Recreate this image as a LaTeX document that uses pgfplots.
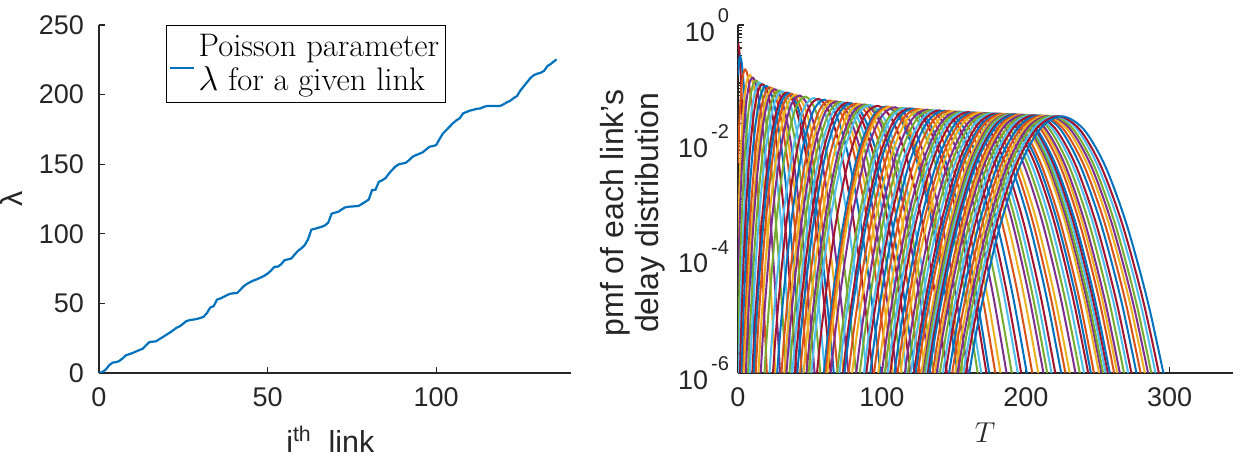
\documentclass[border=0pt]{standalone}
\usepackage{fontspec}
\setsansfont{Liberation Sans}
\usepackage{pgfplots}
\pgfplotsset{compat=1.18}

\definecolor{mb}{rgb}{0,0.447,0.741}
\definecolor{mo}{rgb}{0.850,0.325,0.098}
\definecolor{my}{rgb}{0.929,0.694,0.125}
\definecolor{mp}{rgb}{0.494,0.184,0.556}
\definecolor{mg}{rgb}{0.466,0.674,0.188}
\definecolor{mc}{rgb}{0.301,0.745,0.933}
\definecolor{mr}{rgb}{0.635,0.078,0.184}
\definecolor{axc}{gray}{0.15}

\newcommand{\tkf}{\sffamily\fontsize{13.5}{16}\selectfont}
\newcommand{\lbf}{\sffamily\fontsize{15.2}{17.5}\selectfont}
\newcommand{\sups}[1]{\raisebox{0.68em}{\fontsize{10}{10}\selectfont\hspace{1.5pt}#1}}

\pgfplotsset{
  matlab/.style={
    scale only axis, anchor=south west,
    axis lines*=left, tick align=inside,
    major tick length=3pt, minor tick length=2pt,
    axis line style={draw=axc, line width=0.6pt},
    every tick/.style={draw=axc, line width=0.6pt},
    tick label style={font=\tkf, text=axc},
    label style={text=axc},
    /pgf/number format/assume math mode=true,
    xticklabel style={yshift=-4pt},
  }
}

\begin{document}
\begin{tikzpicture}
\useasboundingbox (0pt,0pt) rectangle (624pt,230pt);

% ---- left: lambda per link ----
\begin{axis}[matlab,
  at={(49.5pt,43.5pt)}, width=236pt, height=174pt,
  xmin=0, xmax=140, ymin=0, ymax=250,
  xtick={0,50,100}, ytick={0,50,100,150,200,250},
  yticklabel style={xshift=-4pt},
  xlabel={i\textsuperscript{th}\ \ link},
  ylabel={λ},
  xlabel style={font=\lbf, at={(axis description cs:0.49,-0.19)}, anchor=center},
  ylabel style={font=\lbf, at={(axis description cs:-0.186,0.5)}, anchor=center},
  legend style={at={(0.142,1)}, anchor=north west, draw=black, line width=0.5pt,
    font=\rmfamily\fontsize{16.3}{17}\selectfont, inner xsep=1pt, inner ysep=2.5pt,
    cells={align=left}},
  legend cell align=left,
  legend image code/.code={\draw[#1, line width=1.1pt] (0pt,-2pt) -- (12pt,-2pt);},
]
\addplot[mb, line width=1.1pt] coordinates {
(0,0) (1,0.7) (2,2.5) (3,5.5) (4,7.4) (5,7.8) (6,8.6) (7,10.5) (8,12.7) (9,13.5)
(10,14.4) (11,15.5) (12,16.5) (13,17.5) (14,20) (15,22.3) (16,22.5) (17,22.8) (18,24.5) (19,25.9)
(20,27.5) (21,29) (22,30.7) (23,32.5) (24,33.6) (25,35.5) (26,37.4) (27,38) (28,38.4) (29,38.8)
(30,39.5) (31,40.3) (32,43) (33,47) (34,48) (35,52.7) (36,53.5) (37,54.7) (38,56) (39,57)
(40,57.3) (41,57.5) (42,60) (43,62.5) (44,64.2) (45,65.5) (46,66.6) (47,67.5) (48,68.6) (49,69.8)
(50,71.4) (51,73.5) (52,76.2) (53,76.4) (54,78) (55,81) (56,81.6) (57,82.2) (58,85) (59,87.7)
(60,89.5) (61,91.8) (62,96) (63,103) (64,103.6) (65,104.3) (66,105) (67,106) (68,108) (69,114.5)
(70,115.2) (71,115.8) (72,117.5) (73,119) (74,119.4) (75,119.6) (76,119.8) (77,120) (78,121.5) (79,123)
(80,124.6) (81,131.4) (82,131.6) (83,137.3) (84,138.5) (85,140) (86,143.3) (87,146) (88,148.5) (89,150)
(90,150.5) (91,151) (92,153) (93,155.3) (94,156.5) (95,157.5) (96,158.5) (97,160.5) (98,162.5) (99,163)
(100,163.7) (101,168) (102,172) (103,174.5) (104,177) (105,179.5) (106,181.5) (107,183) (108,186.5) (109,187.5)
(110,188.5) (111,189) (112,189.8) (113,190) (114,191) (115,191.8) (116,191.8) (117,191.8) (118,191.8) (119,191.9)
(120,193) (121,194.5) (122,195.6) (123,197.5) (124,199) (125,203) (126,206) (127,209) (128,212) (129,214)
(130,215) (131,215.7) (132,217) (133,220.5) (134,222) (135,224) (135.7,225.3)
};
\addlegendentry{Poisson parameter\\$\lambda$ for a given link}
\end{axis}

% ---- right: pmf of each link (log10 values) ----
\begin{axis}[matlab,
  at={(369pt,43.5pt)}, width=247.5pt, height=174pt,
  xmin=0, xmax=344, ymin=-6, ymax=0,
  xtick={0,100,200,300},
  ytick={-6,-4,-2,0},
  yticklabels={{10\sups{-6}},{10\sups{-4}},{10\sups{-2}},{10\sups{0}}},
  minor ytick={-5,-3,-1,
    -5.699,-5.523,-5.398,-5.301,-5.222,-5.155,-5.097,-5.046,
    -4.699,-4.523,-4.398,-4.301,-4.222,-4.155,-4.097,-4.046,
    -3.699,-3.523,-3.398,-3.301,-3.222,-3.155,-3.097,-3.046,
    -2.699,-2.523,-2.398,-2.301,-2.222,-2.155,-2.097,-2.046,
    -1.699,-1.523,-1.398,-1.301,-1.222,-1.155,-1.097,-1.046,
    -0.699,-0.523,-0.398,-0.301,-0.222,-0.155,-0.097,-0.046},
  yticklabel style={xshift=-1pt},
  xlabel={$T$},
  ylabel={pmf of each link's\\delay distribution},
  xlabel style={font=\rmfamily\fontsize{15}{17}\selectfont, at={(axis description cs:0.499,-0.172)}, anchor=center},
  ylabel style={font=\sffamily\fontsize{16}{17.5}\selectfont, align=center, at={(axis description cs:-0.213,0.46)}, anchor=center},
  cycle list={{mr},{mb},{mo},{my},{mp},{mg},{mc}},
  every axis plot/.append style={line width=1.0pt, smooth, no marks},
]
% lambda = 0.7
\addplot+ coordinates {(0,-0.304) (1,-0.459) (2,-0.915) (3,-1.547) (4,-2.304) (5,-3.158) (6,-4.09) (7,-5.09) (8,-6.15)};
% lambda = 2
\addplot+ coordinates {(0,-0.869) (1,-0.568) (2,-0.568) (3,-0.744) (4,-1.045) (5,-1.442) (6,-1.919) (7,-2.463) (8,-3.066) (9,-3.719) (10,-4.418) (11,-5.158) (12,-5.936) (13,-6.749)};
% lambda = 5.5
\addplot+ coordinates {(0,-2.389) (1,-1.648) (2,-1.209) (3,-0.946) (4,-0.807) (5,-0.766) (6,-0.804) (7,-0.908) (8,-1.072) (9,-1.285) (10,-1.545) (12,-2.184) (14,-2.963) (16,-3.864) (18,-4.868) (20,-5.967) (22,-7.151)};
% lambda = 8.6
\addplot+ coordinates {(0,-3.735) (1,-2.80) (2,-2.167) (4,-1.377) (6,-0.985) (8,-0.865) (9,-0.884) (10,-0.950) (12,-1.201) (14,-1.592) (16,-2.104) (18,-2.720) (20,-3.431) (22,-4.227) (24,-5.099) (26,-6.044) (28,-7.053)};
% lambda = 10.5
\addplot+ coordinates {(0,-4.560) (1,-3.539) (2,-2.819) (4,-1.855) (6,-1.290) (8,-0.996) (10,-0.908) (11,-0.928) (12,-0.986) (14,-1.203) (16,-1.542) (18,-1.984) (20,-2.522) (22,-3.145) (24,-3.843) (26,-4.615) (28,-5.450) (30,-6.347)};
% lambda = 13
\addplot+ coordinates {(0,-5.646) (1,-4.532) (2,-3.719) (4,-2.570) (6,-1.820) (8,-1.341) (10,-1.067) (12,-0.959) (14,-0.991) (16,-1.145) (18,-1.402) (20,-1.754) (22,-2.191) (24,-2.704) (26,-3.291) (28,-3.941) (30,-4.652) (32,-5.421) (34,-6.243)};
% lambda = 15.5
\addplot+ coordinates {(0,-6.732) (1,-5.542) (2,-4.652) (4,-3.351) (6,-2.447) (8,-1.816) (10,-1.389) (12,-1.128) (14,-1.008) (16,-1.008) (18,-1.113) (20,-1.312) (22,-1.596) (24,-1.957) (26,-2.390) (28,-2.888) (30,-3.446) (32,-4.062) (34,-4.732) (36,-5.453) (38,-6.222)};
% lambda = 17.5
\addplot+ coordinates {(0,-7.6) (1,-6.357) (2,-5.415) (4,-4.008) (6,-2.999) (8,-2.262) (10,-1.730) (12,-1.364) (14,-1.138) (16,-1.033) (18,-1.032) (20,-1.126) (22,-1.305) (24,-1.560) (26,-1.888) (28,-2.280) (30,-2.733) (32,-3.244) (34,-3.808) (36,-4.424) (38,-5.087) (40,-5.792) (42,-6.542)};
% lambda = 20
\addplot+ coordinates {(1,-7.385) (2,-6.385) (4,-4.862) (6,-3.737) (8,-2.884) (10,-2.236) (12,-1.754) (14,-1.412) (16,-1.191) (18,-1.074) (20,-1.052) (22,-1.115) (24,-1.254) (26,-1.466) (28,-1.742) (30,-2.079) (33,-2.691) (36,-3.422) (39,-4.259) (42,-5.192) (45,-6.218)};
% lambda = 22.5
\addplot+ coordinates {(2,-7.369) (4,-5.743) (6,-4.516) (8,-3.560) (10,-2.810) (12,-2.226) (14,-1.781) (16,-1.458) (18,-1.238) (20,-1.114) (22,-1.075) (24,-1.111) (26,-1.221) (28,-1.394) (30,-1.629) (32,-1.922) (35,-2.459) (38,-3.109) (41,-3.857) (44,-4.699) (47,-5.631) (50,-6.645)};
% lambda = 24.5
\addplot+ coordinates {(3,-7.25) (4.7,-5.69) (9.65,-3.46) (14.6,-2.00) (19.55,-1.28) (24.5,-1.094) (29.45,-1.34) (34.4,-1.94) (39.35,-2.84) (44.3,-4.01) (49.25,-5.42) (54.2,-7.03)};
% lambda = 26
\addplot+ coordinates {(4,-7.012) (6,-5.659) (8,-4.578) (10,-3.702) (13,-2.691) (16,-1.973) (19,-1.492) (22,-1.213) (25,-1.107) (28,-1.156) (31,-1.341) (34,-1.652) (37,-2.077) (40,-2.604) (44,-3.456) (48,-4.465) (52,-5.619) (56,-6.903)};
% lambda = 28.8
\addplot+ coordinates {(1.95,-9.89) (7.32,-5.8) (12.69,-3.42) (18.06,-2.03) (23.43,-1.32) (28.8,-1.129) (34.17,-1.37) (39.54,-1.98) (44.91,-2.89) (50.28,-4.09) (55.65,-5.54) (61.02,-7.21)};
% lambda = 31
\addplot+ coordinates {(6,-7.372) (8,-6.138) (10,-5.109) (13,-3.869) (16,-2.922) (19,-2.211) (22,-1.703) (25,-1.368) (28,-1.188) (31,-1.144) (34,-1.225) (37,-1.421) (40,-1.719) (44,-2.265) (48,-2.969) (52,-3.817) (56,-4.796) (60,-5.898) (64,-7.115)};
% lambda = 34
\addplot+ coordinates {(4.85,-9.14) (10.68,-5.63) (16.51,-3.41) (22.34,-2.06) (28.17,-1.36) (34,-1.165) (39.83,-1.41) (45.66,-2.01) (51.49,-2.95) (57.32,-4.17) (63.15,-5.65) (68.98,-7.36)};
% lambda = 35.5
\addplot+ coordinates {(5.7,-9.14) (11.66,-5.63) (17.62,-3.42) (23.58,-2.07) (29.54,-1.37) (35.5,-1.174) (41.46,-1.41) (47.42,-2.02) (53.38,-2.95) (59.34,-4.17) (65.3,-5.65) (71.26,-7.36)};
% lambda = 37.5
\addplot+ coordinates {(6.9,-9.16) (13.02,-5.65) (19.14,-3.44) (25.26,-2.08) (31.38,-1.38) (37.5,-1.186) (43.62,-1.43) (49.74,-2.04) (55.86,-2.97) (61.98,-4.19) (68.1,-5.67) (74.22,-7.38)};
% lambda = 40.3
\addplot+ coordinates {(8.55,-9.17) (14.9,-5.66) (21.25,-3.45) (27.6,-2.10) (33.95,-1.39) (40.3,-1.202) (46.65,-1.44) (53.0,-2.05) (59.35,-2.98) (65.7,-4.20) (72.05,-5.68) (78.4,-7.39)};
% lambda = 43
\addplot+ coordinates {(10.2,-8.92) (16.76,-5.58) (23.32,-3.44) (29.88,-2.11) (36.44,-1.41) (43,-1.216) (49.56,-1.45) (56.12,-2.07) (62.68,-3.01) (69.24,-4.25) (75.8,-5.75) (82.36,-7.50)};
% lambda = 47
\addplot+ coordinates {(12.7,-8.70) (19.56,-5.53) (26.42,-3.44) (33.28,-2.13) (40.14,-1.43) (47,-1.235) (53.86,-1.47) (60.72,-2.09) (67.58,-3.04) (74.44,-4.29) (81.3,-5.81) (88.16,-7.59)};
% lambda = 52.7
\addplot+ coordinates {(16.4,-8.20) (23.66,-5.37) (30.92,-3.42) (38.18,-2.15) (45.44,-1.46) (52.7,-1.26) (59.96,-1.49) (67.22,-2.11) (74.48,-3.08) (81.74,-4.35) (89.0,-5.92) (96.26,-7.76)};
% lambda = 56
\addplot+ coordinates {(18.6,-8.21) (26.08,-5.38) (33.56,-3.43) (41.04,-2.16) (48.52,-1.47) (56,-1.273) (63.48,-1.51) (70.96,-2.12) (78.44,-3.09) (85.92,-4.36) (93.4,-5.93) (100.88,-7.77)};
% lambda = 60
\addplot+ coordinates {(21.25,-8.23) (29,-5.40) (36.75,-3.45) (44.5,-2.18) (52.25,-1.49) (60,-1.288) (67.75,-1.52) (75.5,-2.14) (83.25,-3.11) (91,-4.38) (98.75,-5.95) (106.5,-7.79)};
% lambda = 64
\addplot+ coordinates {(24,-8.24) (32,-5.41) (40,-3.46) (48,-2.19) (56,-1.50) (64,-1.302) (72,-1.54) (80,-2.15) (88,-3.12) (96,-4.39) (104,-5.96) (112,-7.80)};
% lambda = 66.6
\addplot+ coordinates {(25.8,-8.25) (33.96,-5.42) (42.12,-3.47) (50.28,-2.20) (58.44,-1.51) (66.6,-1.311) (74.76,-1.55) (82.92,-2.16) (91.08,-3.13) (99.24,-4.40) (107.4,-5.97) (115.56,-7.81)};
% lambda = 68.6
\addplot+ coordinates {(27.2,-8.26) (35.48,-5.43) (43.76,-3.48) (52.04,-2.21) (60.32,-1.52) (68.6,-1.317) (76.88,-1.55) (85.16,-2.17) (93.44,-3.14) (101.72,-4.41) (110.0,-5.98) (118.28,-7.82)};
% lambda = 71.4
\addplot+ coordinates {(29.15,-8.27) (37.6,-5.44) (46.05,-3.49) (54.5,-2.22) (62.95,-1.53) (71.4,-1.326) (79.85,-1.56) (88.3,-2.18) (96.75,-3.15) (105.2,-4.42) (113.65,-5.99) (122.1,-7.83)};
% lambda = 74
\addplot+ coordinates {(31,-8.27) (39.6,-5.44) (48.2,-3.49) (56.8,-2.22) (65.4,-1.53) (74,-1.334) (82.6,-1.57) (91.2,-2.19) (99.8,-3.15) (108.4,-4.42) (117,-5.99) (125.6,-7.83)};
% lambda = 76.2
\addplot+ coordinates {(32.55,-8.28) (41.28,-5.45) (50.01,-3.50) (58.74,-2.23) (67.47,-1.54) (76.2,-1.34) (84.93,-1.57) (93.66,-2.19) (102.39,-3.16) (111.12,-4.43) (119.85,-6.00) (128.58,-7.84)};
% lambda = 78.5
\addplot+ coordinates {(34.2,-8.29) (43.06,-5.46) (51.92,-3.51) (60.78,-2.24) (69.64,-1.55) (78.5,-1.347) (87.36,-1.58) (96.22,-2.20) (105.08,-3.17) (113.94,-4.44) (122.8,-6.01) (131.66,-7.85)};
% lambda = 82
\addplot+ coordinates {(36.7,-7.87) (45.76,-5.31) (54.82,-3.47) (63.88,-2.24) (72.94,-1.56) (82,-1.356) (91.06,-1.59) (100.12,-2.21) (109.18,-3.20) (118.24,-4.52) (127.3,-6.15)};
% lambda = 85
\addplot+ coordinates {(38.9,-7.87) (48.12,-5.31) (57.34,-3.47) (66.56,-2.25) (75.78,-1.57) (85,-1.364) (94.22,-1.60) (103.44,-2.22) (112.66,-3.20) (121.88,-4.52) (131.1,-6.15)};
% lambda = 87.7
\addplot+ coordinates {(40.9,-7.88) (50.26,-5.32) (59.62,-3.48) (68.98,-2.26) (78.34,-1.57) (87.7,-1.371) (97.06,-1.60) (106.42,-2.23) (115.78,-3.21) (125.14,-4.53) (134.5,-6.16)};
% lambda = 89.5
\addplot+ coordinates {(42.2,-7.89) (51.66,-5.33) (61.12,-3.49) (70.58,-2.26) (80.04,-1.58) (89.5,-1.375) (98.96,-1.61) (108.42,-2.23) (117.88,-3.22) (127.34,-4.54) (136.8,-6.17)};
% lambda = 92
\addplot+ coordinates {(44.05,-7.89) (53.64,-5.33) (63.23,-3.49) (72.82,-2.27) (82.41,-1.58) (92,-1.381) (101.59,-1.61) (111.18,-2.24) (120.77,-3.22) (130.36,-4.54) (139.95,-6.17)};
% lambda = 97
\addplot+ coordinates {(47.75,-7.90) (57.6,-5.34) (67.45,-3.50) (77.3,-2.28) (87.15,-1.60) (97,-1.393) (106.85,-1.62) (116.7,-2.25) (126.55,-3.23) (136.4,-4.55) (146.25,-6.18)};
% lambda = 103
\addplot+ coordinates {(52.25,-7.92) (62.4,-5.36) (72.55,-3.52) (82.7,-2.29) (92.85,-1.61) (103,-1.406) (113.15,-1.64) (123.3,-2.26) (133.45,-3.25) (143.6,-4.57) (153.75,-6.20)};
% lambda = 104.5
\addplot+ coordinates {(53.4,-7.92) (63.62,-5.36) (73.84,-3.52) (84.06,-2.29) (94.28,-1.61) (104.5,-1.409) (114.72,-1.64) (124.94,-2.27) (135.16,-3.25) (145.38,-4.57) (155.6,-6.20)};
% lambda = 106
\addplot+ coordinates {(54.5,-7.92) (64.8,-5.36) (75.1,-3.52) (85.4,-2.30) (95.7,-1.61) (106,-1.412) (116.3,-1.64) (126.6,-2.27) (136.9,-3.25) (147.2,-4.57) (157.5,-6.20)};
% lambda = 109
\addplot+ coordinates {(56.8,-7.93) (67.24,-5.37) (77.68,-3.53) (88.12,-2.30) (98.56,-1.62) (109,-1.418) (119.44,-1.65) (129.88,-2.28) (140.32,-3.26) (150.76,-4.58) (161.2,-6.21)};
% lambda = 114.5
\addplot+ coordinates {(61.0,-7.94) (71.7,-5.38) (82.4,-3.54) (93.1,-2.31) (103.8,-1.63) (114.5,-1.428) (125.2,-1.66) (135.9,-2.29) (146.6,-3.27) (157.3,-4.59) (168.0,-6.22)};
% lambda = 116.5
\addplot+ coordinates {(62.55,-7.94) (73.34,-5.38) (84.13,-3.54) (94.92,-2.32) (105.71,-1.63) (116.5,-1.432) (127.29,-1.66) (138.08,-2.29) (148.87,-3.27) (159.66,-4.59) (170.45,-6.22)};
% lambda = 119.5
\addplot+ coordinates {(64.85,-7.95) (75.78,-5.39) (86.71,-3.55) (97.64,-2.32) (108.57,-1.64) (119.5,-1.438) (130.43,-1.67) (141.36,-2.30) (152.29,-3.28) (163.22,-4.60) (174.15,-6.23)};
% lambda = 121.5
\addplot+ coordinates {(66.4,-7.72) (77.42,-5.29) (88.44,-3.52) (99.46,-2.33) (110.48,-1.65) (121.5,-1.441) (132.52,-1.67) (143.54,-2.30) (154.56,-3.30) (165.58,-4.65) (176.6,-6.31)};
% lambda = 125
\addplot+ coordinates {(69.1,-7.73) (80.28,-5.30) (91.46,-3.53) (102.64,-2.33) (113.82,-1.65) (125,-1.448) (136.18,-1.68) (147.36,-2.31) (158.54,-3.31) (169.72,-4.66) (180.9,-6.32)};
% lambda = 128
\addplot+ coordinates {(71.45,-7.73) (82.76,-5.30) (94.07,-3.53) (105.38,-2.34) (116.69,-1.66) (128,-1.453) (139.31,-1.68) (150.62,-2.31) (161.93,-3.31) (173.24,-4.66) (184.55,-6.32)};
% lambda = 131.5
\addplot+ coordinates {(74.15,-7.74) (85.62,-5.31) (97.09,-3.54) (108.56,-2.34) (120.03,-1.66) (131.5,-1.459) (142.97,-1.69) (154.44,-2.32) (165.91,-3.32) (177.38,-4.67) (188.85,-6.33)};
% lambda = 134.5
\addplot+ coordinates {(76.5,-7.74) (88.1,-5.31) (99.7,-3.54) (111.3,-2.35) (122.9,-1.67) (134.5,-1.464) (146.1,-1.69) (157.7,-2.32) (169.3,-3.32) (180.9,-4.67) (192.5,-6.33)};
% lambda = 138
\addplot+ coordinates {(79.25,-7.75) (91.0,-5.32) (102.75,-3.55) (114.5,-2.35) (126.25,-1.67) (138,-1.469) (149.75,-1.70) (161.5,-2.33) (173.25,-3.33) (185.0,-4.68) (196.75,-6.34)};
% lambda = 140
\addplot+ coordinates {(80.85,-7.75) (92.68,-5.32) (104.51,-3.55) (116.34,-2.36) (128.17,-1.68) (140,-1.472) (151.83,-1.70) (163.66,-2.33) (175.49,-3.33) (187.32,-4.68) (199.15,-6.34)};
% lambda = 143.3
\addplot+ coordinates {(83.45,-7.76) (95.42,-5.33) (107.39,-3.56) (119.36,-2.36) (131.33,-1.68) (143.3,-1.477) (155.27,-1.71) (167.24,-2.34) (179.21,-3.34) (191.18,-4.69) (203.15,-6.35)};
% lambda = 146.5
\addplot+ coordinates {(86.0,-7.76) (98.1,-5.33) (110.2,-3.56) (122.3,-2.37) (134.4,-1.69) (146.5,-1.482) (158.6,-1.71) (170.7,-2.34) (182.8,-3.34) (194.9,-4.69) (207.0,-6.35)};
% lambda = 150
\addplot+ coordinates {(88.75,-7.77) (101.0,-5.34) (113.25,-3.57) (125.5,-2.37) (137.75,-1.69) (150,-1.487) (162.25,-1.72) (174.5,-2.35) (186.75,-3.35) (199.0,-4.70) (211.25,-6.36)};
% lambda = 153
\addplot+ coordinates {(91.15,-7.77) (103.52,-5.34) (115.89,-3.57) (128.26,-2.38) (140.63,-1.70) (153,-1.492) (165.37,-1.72) (177.74,-2.35) (190.11,-3.35) (202.48,-4.70) (214.85,-6.36)};
% lambda = 155.3
\addplot+ coordinates {(93.0,-7.78) (105.46,-5.35) (117.92,-3.58) (130.38,-2.38) (142.84,-1.70) (155.3,-1.495) (167.76,-1.72) (180.22,-2.35) (192.68,-3.36) (205.14,-4.71) (217.6,-6.37)};
% lambda = 157.8
\addplot+ coordinates {(95.0,-7.78) (107.56,-5.35) (120.12,-3.58) (132.68,-2.38) (145.24,-1.70) (157.8,-1.498) (170.36,-1.73) (182.92,-2.36) (195.48,-3.36) (208.04,-4.71) (220.6,-6.37)};
% lambda = 160
\addplot+ coordinates {(96.75,-7.78) (109.4,-5.35) (122.05,-3.58) (134.7,-2.39) (147.35,-1.71) (160,-1.501) (172.65,-1.73) (185.3,-2.36) (197.95,-3.36) (210.6,-4.71) (223.25,-6.37)};
% lambda = 163.5
\addplot+ coordinates {(99.55,-7.79) (112.34,-5.36) (125.13,-3.59) (137.92,-2.39) (150.71,-1.71) (163.5,-1.506) (176.29,-1.73) (189.08,-2.37) (201.87,-3.37) (214.66,-4.72) (227.45,-6.38)};
% lambda = 166
\addplot+ coordinates {(101.6,-7.79) (114.48,-5.36) (127.36,-3.59) (140.24,-2.39) (153.12,-1.71) (166,-1.509) (178.88,-1.74) (191.76,-2.37) (204.64,-3.37) (217.52,-4.72) (230.4,-6.38)};
% lambda = 168.5
\addplot+ coordinates {(103.6,-7.79) (116.58,-5.36) (129.56,-3.59) (142.54,-2.40) (155.52,-1.72) (168.5,-1.512) (181.48,-1.74) (194.46,-2.37) (207.44,-3.37) (220.42,-4.72) (233.4,-6.38)};
% lambda = 172
\addplot+ coordinates {(106.45,-7.80) (119.56,-5.37) (132.67,-3.60) (145.78,-2.40) (158.89,-1.72) (172,-1.517) (185.11,-1.75) (198.22,-2.38) (211.33,-3.38) (224.44,-4.73) (237.55,-6.39)};
% lambda = 174.5
\addplot+ coordinates {(108.45,-7.80) (121.66,-5.37) (134.87,-3.60) (148.08,-2.41) (161.29,-1.72) (174.5,-1.520) (187.71,-1.75) (200.92,-2.38) (214.13,-3.38) (227.34,-4.73) (240.55,-6.39)};
% lambda = 177
\addplot+ coordinates {(110.5,-7.80) (123.8,-5.37) (137.1,-3.60) (150.4,-2.41) (163.7,-1.73) (177,-1.523) (190.3,-1.75) (203.6,-2.38) (216.9,-3.38) (230.2,-4.73) (243.5,-6.39)};
% lambda = 179.5
\addplot+ coordinates {(112.5,-7.81) (125.9,-5.38) (139.3,-3.61) (152.7,-2.41) (166.1,-1.73) (179.5,-1.526) (192.9,-1.75) (206.3,-2.39) (219.7,-3.39) (233.1,-4.74) (246.5,-6.40)};
% lambda = 181.7
\addplot+ coordinates {(114.3,-7.60) (127.78,-5.29) (141.26,-3.58) (154.74,-2.41) (168.22,-1.74) (181.7,-1.529) (195.18,-1.75) (208.66,-2.40) (222.14,-3.41) (235.62,-4.78) (249.1,-6.51)};
% lambda = 183.5
\addplot+ coordinates {(115.75,-7.60) (129.3,-5.29) (142.85,-3.58) (156.4,-2.41) (169.95,-1.74) (183.5,-1.531) (197.05,-1.75) (210.6,-2.40) (224.15,-3.41) (237.7,-4.78) (251.25,-6.51)};
% lambda = 186.5
\addplot+ coordinates {(118.2,-7.60) (131.86,-5.29) (145.52,-3.58) (159.18,-2.41) (172.84,-1.74) (186.5,-1.534) (200.16,-1.76) (213.82,-2.40) (227.48,-3.41) (241.14,-4.78) (254.8,-6.51)};
% lambda = 188
\addplot+ coordinates {(119.45,-7.61) (133.16,-5.30) (146.87,-3.59) (160.58,-2.42) (174.29,-1.74) (188,-1.536) (201.71,-1.76) (215.42,-2.40) (229.13,-3.42) (242.84,-4.79) (256.55,-6.52)};
% lambda = 189
\addplot+ coordinates {(120.25,-7.61) (134.0,-5.30) (147.75,-3.59) (161.5,-2.42) (175.25,-1.74) (189,-1.537) (202.75,-1.76) (216.5,-2.40) (230.25,-3.42) (244.0,-4.79) (257.75,-6.52)};
% lambda = 190.5
\addplot+ coordinates {(121.5,-7.61) (135.3,-5.30) (149.1,-3.59) (162.9,-2.42) (176.7,-1.75) (190.5,-1.539) (204.3,-1.76) (218.1,-2.41) (231.9,-3.42) (245.7,-4.79) (259.5,-6.52)};
% lambda = 191.8
\addplot+ coordinates {(122.55,-7.61) (136.4,-5.30) (150.25,-3.59) (164.1,-2.42) (177.95,-1.75) (191.8,-1.541) (205.65,-1.76) (219.5,-2.41) (233.35,-3.42) (247.2,-4.79) (261.05,-6.52)};
% lambda = 193
\addplot+ coordinates {(123.55,-7.61) (137.44,-5.30) (151.33,-3.59) (165.22,-2.42) (179.11,-1.75) (193,-1.542) (206.89,-1.77) (220.78,-2.41) (234.67,-3.42) (248.56,-4.79) (262.45,-6.52)};
% lambda = 195.6
\addplot+ coordinates {(125.65,-7.62) (139.64,-5.31) (153.63,-3.60) (167.62,-2.43) (181.61,-1.75) (195.6,-1.545) (209.59,-1.77) (223.58,-2.41) (237.57,-3.43) (251.56,-4.80) (265.55,-6.53)};
% lambda = 197.5
\addplot+ coordinates {(127.25,-7.62) (141.3,-5.31) (155.35,-3.60) (169.4,-2.43) (183.45,-1.75) (197.5,-1.547) (211.55,-1.77) (225.6,-2.41) (239.65,-3.43) (253.7,-4.80) (267.75,-6.53)};
% lambda = 199
\addplot+ coordinates {(128.45,-7.62) (142.56,-5.31) (156.67,-3.60) (170.78,-2.43) (184.89,-1.75) (199,-1.548) (213.11,-1.77) (227.22,-2.41) (241.33,-3.43) (255.44,-4.80) (269.55,-6.53)};
% lambda = 201.5
\addplot+ coordinates {(130.55,-7.62) (144.74,-5.31) (158.93,-3.60) (173.12,-2.43) (187.31,-1.76) (201.5,-1.551) (215.69,-1.77) (229.88,-2.42) (244.07,-3.43) (258.26,-4.80) (272.45,-6.53)};
% lambda = 204
\addplot+ coordinates {(132.6,-7.62) (146.88,-5.31) (161.16,-3.60) (175.44,-2.43) (189.72,-1.76) (204,-1.554) (218.28,-1.78) (232.56,-2.42) (246.84,-3.43) (261.12,-4.80) (275.4,-6.53)};
% lambda = 206
\addplot+ coordinates {(134.25,-7.63) (148.6,-5.32) (162.95,-3.61) (177.3,-2.44) (191.65,-1.76) (206,-1.556) (220.35,-1.78) (234.7,-2.42) (249.05,-3.44) (263.4,-4.81) (277.75,-6.54)};
% lambda = 209
\addplot+ coordinates {(136.7,-7.63) (151.16,-5.32) (165.62,-3.61) (180.08,-2.44) (194.54,-1.77) (209,-1.559) (223.46,-1.78) (237.92,-2.43) (252.38,-3.44) (266.84,-4.81) (281.3,-6.54)};
% lambda = 211.5
\addplot+ coordinates {(138.8,-7.63) (153.34,-5.32) (167.88,-3.61) (182.42,-2.44) (196.96,-1.77) (211.5,-1.562) (226.04,-1.79) (240.58,-2.43) (255.12,-3.44) (269.66,-4.81) (284.2,-6.54)};
% lambda = 214
\addplot+ coordinates {(140.85,-7.63) (155.48,-5.32) (170.11,-3.61) (184.74,-2.44) (199.37,-1.77) (214,-1.564) (228.63,-1.79) (243.26,-2.43) (257.89,-3.44) (272.52,-4.81) (287.15,-6.54)};
% lambda = 216
\addplot+ coordinates {(142.5,-7.64) (157.2,-5.33) (171.9,-3.62) (186.6,-2.45) (201.3,-1.77) (216,-1.566) (230.7,-1.79) (245.4,-2.43) (260.1,-3.45) (274.8,-4.82) (289.5,-6.55)};
% lambda = 218
\addplot+ coordinates {(144.2,-7.64) (158.96,-5.33) (173.72,-3.62) (188.48,-2.45) (203.24,-1.77) (218,-1.568) (232.76,-1.79) (247.52,-2.43) (262.28,-3.45) (277.04,-4.82) (291.8,-6.55)};
% lambda = 220.5
\addplot+ coordinates {(146.25,-7.64) (161.1,-5.33) (175.95,-3.62) (190.8,-2.45) (205.65,-1.78) (220.5,-1.571) (235.35,-1.79) (250.2,-2.44) (265.05,-3.45) (279.9,-4.82) (294.75,-6.55)};
% lambda = 222.5
\addplot+ coordinates {(147.9,-7.64) (162.82,-5.33) (177.74,-3.62) (192.66,-2.45) (207.58,-1.78) (222.5,-1.573) (237.42,-1.80) (252.34,-2.44) (267.26,-3.45) (282.18,-4.82) (297.1,-6.55)};
% lambda = 225.3
\addplot+ coordinates {(150.25,-7.65) (165.26,-5.34) (180.27,-3.63) (195.28,-2.46) (210.29,-1.78) (225.3,-1.575) (240.31,-1.80) (255.32,-2.44) (270.33,-3.46) (285.34,-4.83) (300.35,-6.56)};
\end{axis}
\end{tikzpicture}
\end{document}
